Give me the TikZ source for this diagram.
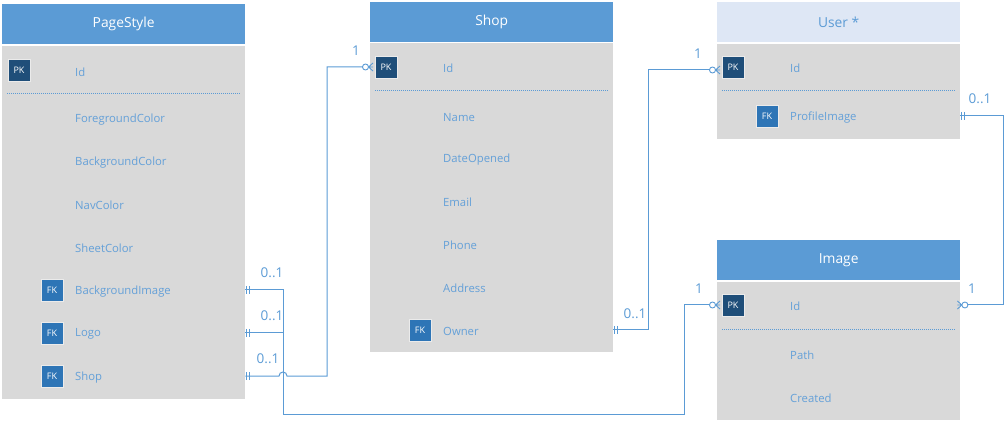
\documentclass[tikz,border=0pt]{standalone}
\usepackage{fontspec}
\setmainfont{Open Sans}
\usetikzlibrary{calc}
\definecolor{hdr}{RGB}{91,155,213}
\definecolor{bodyg}{RGB}{217,217,217}
\definecolor{pkc}{RGB}{31,78,121}
\definecolor{fkc}{RGB}{46,117,182}
\definecolor{txt}{RGB}{100,160,216}
\definecolor{usr}{RGB}{222,231,245}
\definecolor{ln}{RGB}{91,155,213}
\definecolor{keyedge}{RGB}{235,235,235}
\tikzset{
  hdrbox/.style={fill=hdr, draw=none, minimum width=243pt, minimum height=40pt, inner sep=0pt,
    text=white, font=\fontsize{13.8}{16}\selectfont, anchor=north west},
  bodybox/.style={fill=bodyg, draw=none, minimum width=243pt, inner sep=0pt, anchor=north west},
  keybox/.style={minimum size=22pt, inner sep=0pt, draw=keyedge, line width=0.9pt, text=white,
    font=\fontsize{9}{10}\selectfont},
  pkbox/.style={keybox, fill=pkc},
  fkbox/.style={keybox, fill=fkc},
  field/.style={anchor=west, inner sep=0pt, yshift=-1.2pt, text=txt, font=\fontsize{11.3}{13}\selectfont},
  sepline/.style={draw=hdr, line width=1pt, dash pattern=on 1pt off 1pt},
  rel/.style={draw=ln, line width=1pt},
  card/.style={text=ln, inner sep=0pt, font=\fontsize{13.5}{15}\selectfont},
  onemark/.pic={\draw[ln, line width=0.9pt] (1.5,-4) -- (1.5,4) (4.5,-4) -- (4.5,4);},
  zmany/.pic={\draw[ln, line width=0.9pt] (1.5,0) -- (-3,-4) (1.5,0) -- (-3,0) (1.5,0) -- (-3,4);
    \draw[ln, line width=0.9pt, fill=white] (4.5,0) circle[radius=3pt];}
}
\begin{document}
\begin{tikzpicture}[x=1pt,y=-1pt]
\useasboundingbox (0,0) rectangle (1005,422);
% ---------------- PageStyle
\node[hdrbox] (psh) at (2,4) {PageStyle};
\node[bodybox, minimum height=353pt] (ps) at (2,46) {};
\node[pkbox] (pspk) at (19,70) {PK};
\node[field] (psid) at (75,71) {Id};
\draw[sepline] (7,94) -- (240,94);
\node[field] (psfg) at (75,118) {ForegroundColor};
\node[field] (psbgc) at (75,161) {BackgroundColor};
\node[field] (psnav) at (75,204) {NavColor};
\node[field] (pssheet) at (75,247) {SheetColor};
\node[fkbox] (psfk1) at (52,290) {FK};
\node[field] (psbg) at (75,290) {BackgroundImage};
\node[fkbox] (psfk2) at (52,333) {FK};
\node[field] (pslogo) at (75,333) {Logo};
\node[fkbox] (psfk3) at (52,376) {FK};
\node[field] (psshop) at (75,376) {Shop};
% ---------------- Shop
\node[hdrbox] (shh) at (370,2) {Shop};
\node[bodybox, minimum height=309pt] (sh) at (370,43) {};
\node[pkbox] (shpk) at (386,67) {PK};
\node[field] (shid) at (443,67) {Id};
\draw[sepline] (375,91) -- (608,91);
\node[field] (shname) at (443,116) {Name};
\node[field] (shdate) at (443,158) {DateOpened};
\node[field] (shemail) at (443,201) {Email};
\node[field] (shphone) at (443,244) {Phone};
\node[field] (shaddr) at (443,287) {Address};
\node[fkbox] (shfk) at (420,330) {FK};
\node[field] (showner) at (443,330) {Owner};
% ---------------- User
\node[hdrbox, fill=usr, text=hdr] (ush) at (717,2) {User *};
\node[bodybox, minimum height=95pt] (us) at (717,44) {};
\node[pkbox] (uspk) at (733,67) {PK};
\node[field] (usid) at (790,67) {Id};
\draw[sepline] (722,91) -- (955,91);
\node[fkbox] (usfk) at (767,116) {FK};
\node[field] (usimg) at (790,116) {ProfileImage};
% ---------------- Image
\node[hdrbox] (imh) at (717,240) {Image};
\node[bodybox, minimum height=138pt] (im) at (717,282) {};
\node[pkbox] (impk) at (733,305) {PK};
\node[field] (imid) at (790,305) {Id};
\draw[sepline] (722,330) -- (955,330);
\node[field] (impath) at (790,354) {Path};
\node[field] (imcreated) at (790,397) {Created};
% ---------------- connectors
\coordinate (busA) at (283,414);
\coordinate (busB) at (684,414);
\draw[rel] (ps.east |- psfk1) -- (283,290) -- (busA) -- (busB) -- (684,305) -- (im.west |- impk);
\draw[rel] (ps.east |- psfk2) -- (283,333);
\draw[rel] (ps.east |- psfk3) -- (279,376) arc[start angle=180, end angle=0, radius=4pt]
  -- (327,376) -- (327,67) -- (sh.west |- shpk);
\draw[rel] (sh.east |- shfk) -- (648,330) -- (648,70) -- (us.west |- 0,70);
\draw[rel] (us.east |- usfk) -- (1003,116) -- (1003,305) -- (im.east |- impk);
% markers
\pic at (ps.east |- psfk1) {onemark};
\pic at (ps.east |- psfk2) {onemark};
\pic at (ps.east |- psfk3) {onemark};
\pic at (sh.east |- shfk) {onemark};
\pic at (us.east |- usfk) {onemark};
\pic[rotate=180] at (sh.west |- shpk) {zmany};
\pic[rotate=180] at (us.west |- 0,70) {zmany};
\pic[rotate=180] at (im.west |- impk) {zmany};
\pic at (im.east |- impk) {zmany};
% cardinalities
\node[card] (c1) at (272,273) {0..1};
\node[card] (c2) at (272,316) {0..1};
\node[card] (c3) at (268,359) {0..1};
\node[card] (c4) at (356,51) {1};
\node[card] (c5) at (635,314) {0..1};
\node[card] (c6) at (698,54) {1};
\node[card] (c7) at (699,289) {1};
\node[card] (c8) at (980,99) {0..1};
\node[card] (c9) at (972,289) {1};
\end{tikzpicture}
\end{document}
